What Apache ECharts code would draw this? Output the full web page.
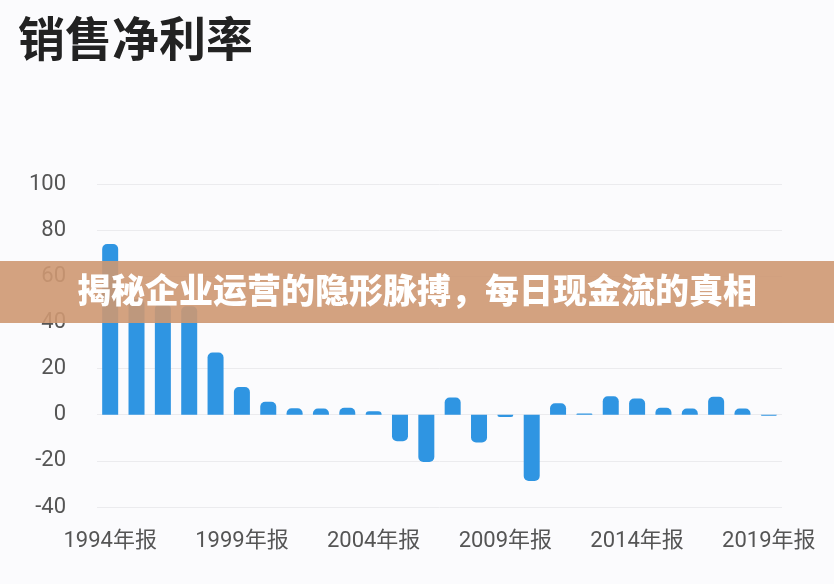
<!DOCTYPE html>
<html><head><meta charset="utf-8">
<script src="https://cdn.jsdelivr.net/npm/echarts@6/dist/echarts.min.js"></script>
<style>html,body{margin:0;padding:0;background:#fbfbfd;}#c{width:834px;height:584px;}</style>
</head><body><div id="c"></div>
<script>
const title = '销售净利率';
const bannerText = '揭秘企业运营的隐形脉搏，每日现金流的真相';
const years = [1994,1995,1996,1997,1998,1999,2000,2001,2002,2003,2004,2005,2006,2007,2008,2009,2010,2011,2012,2013,2014,2015,2016,2017,2018,2019];
const categories = years.map(y => y + '年报');
const netMargin = [74, 50, 48, 47, 27, 12, 5.6, 2.8, 2.7, 3, 1.5, -11.5, -20.5, 7.5, -12, -1, -28.7, 5, 0.5, 8, 7, 3, 2.7, 7.8, 2.7, -0.5];
const yTicks = { min: -40, max: 100, interval: 20 };

const chart = echarts.init(document.getElementById('c'));
const font = 'Roboto, "Noto Sans CJK SC", sans-serif';
chart.setOption({
  backgroundColor: '#fbfbfd',
  title: { text: title, left: 13, top: 10, textStyle: { fontSize: 47, fontWeight: 'bold', color: '#222', fontFamily: '"Noto Sans CJK SC", sans-serif' } },
  grid: { left: 97, right: 52, top: 184, bottom: 77 },
  xAxis: {
    type: 'category', data: categories,
    axisLine: { show: false }, axisTick: { show: false },
    axisLabel: { interval: 4, color: '#555', fontSize: 22, margin: 23, fontFamily: font }
  },
  yAxis: {
    type: 'value', min: yTicks.min, max: yTicks.max, interval: yTicks.interval,
    axisLine: { show: false }, axisTick: { show: false },
    axisLabel: { color: '#555', fontSize: 22, margin: 31, fontFamily: font },
    splitLine: { lineStyle: { color: '#ebebee', width: 1 } }
  },
  series: [{
    type: 'bar', barWidth: 16,
    data: netMargin.map(v => ({ value: v, itemStyle: { borderRadius: v >= 0 ? [5,5,0,0] : [0,0,5,5] } })),
    itemStyle: { color: '#2f95e2' }
  }],
  graphic: [
    { type: 'rect', left: 0, top: 261, shape: { width: 834, height: 62 }, style: { fill: 'rgba(206,152,114,0.9)' }, z: 100 },
    { type: 'text', left: 'center', top: 273, style: { text: bannerText, fill: '#fff', fontSize: 34, fontWeight: 900, fontFamily: '"Noto Sans CJK SC", sans-serif' }, z: 101 }
  ]
});
</script></body></html>
